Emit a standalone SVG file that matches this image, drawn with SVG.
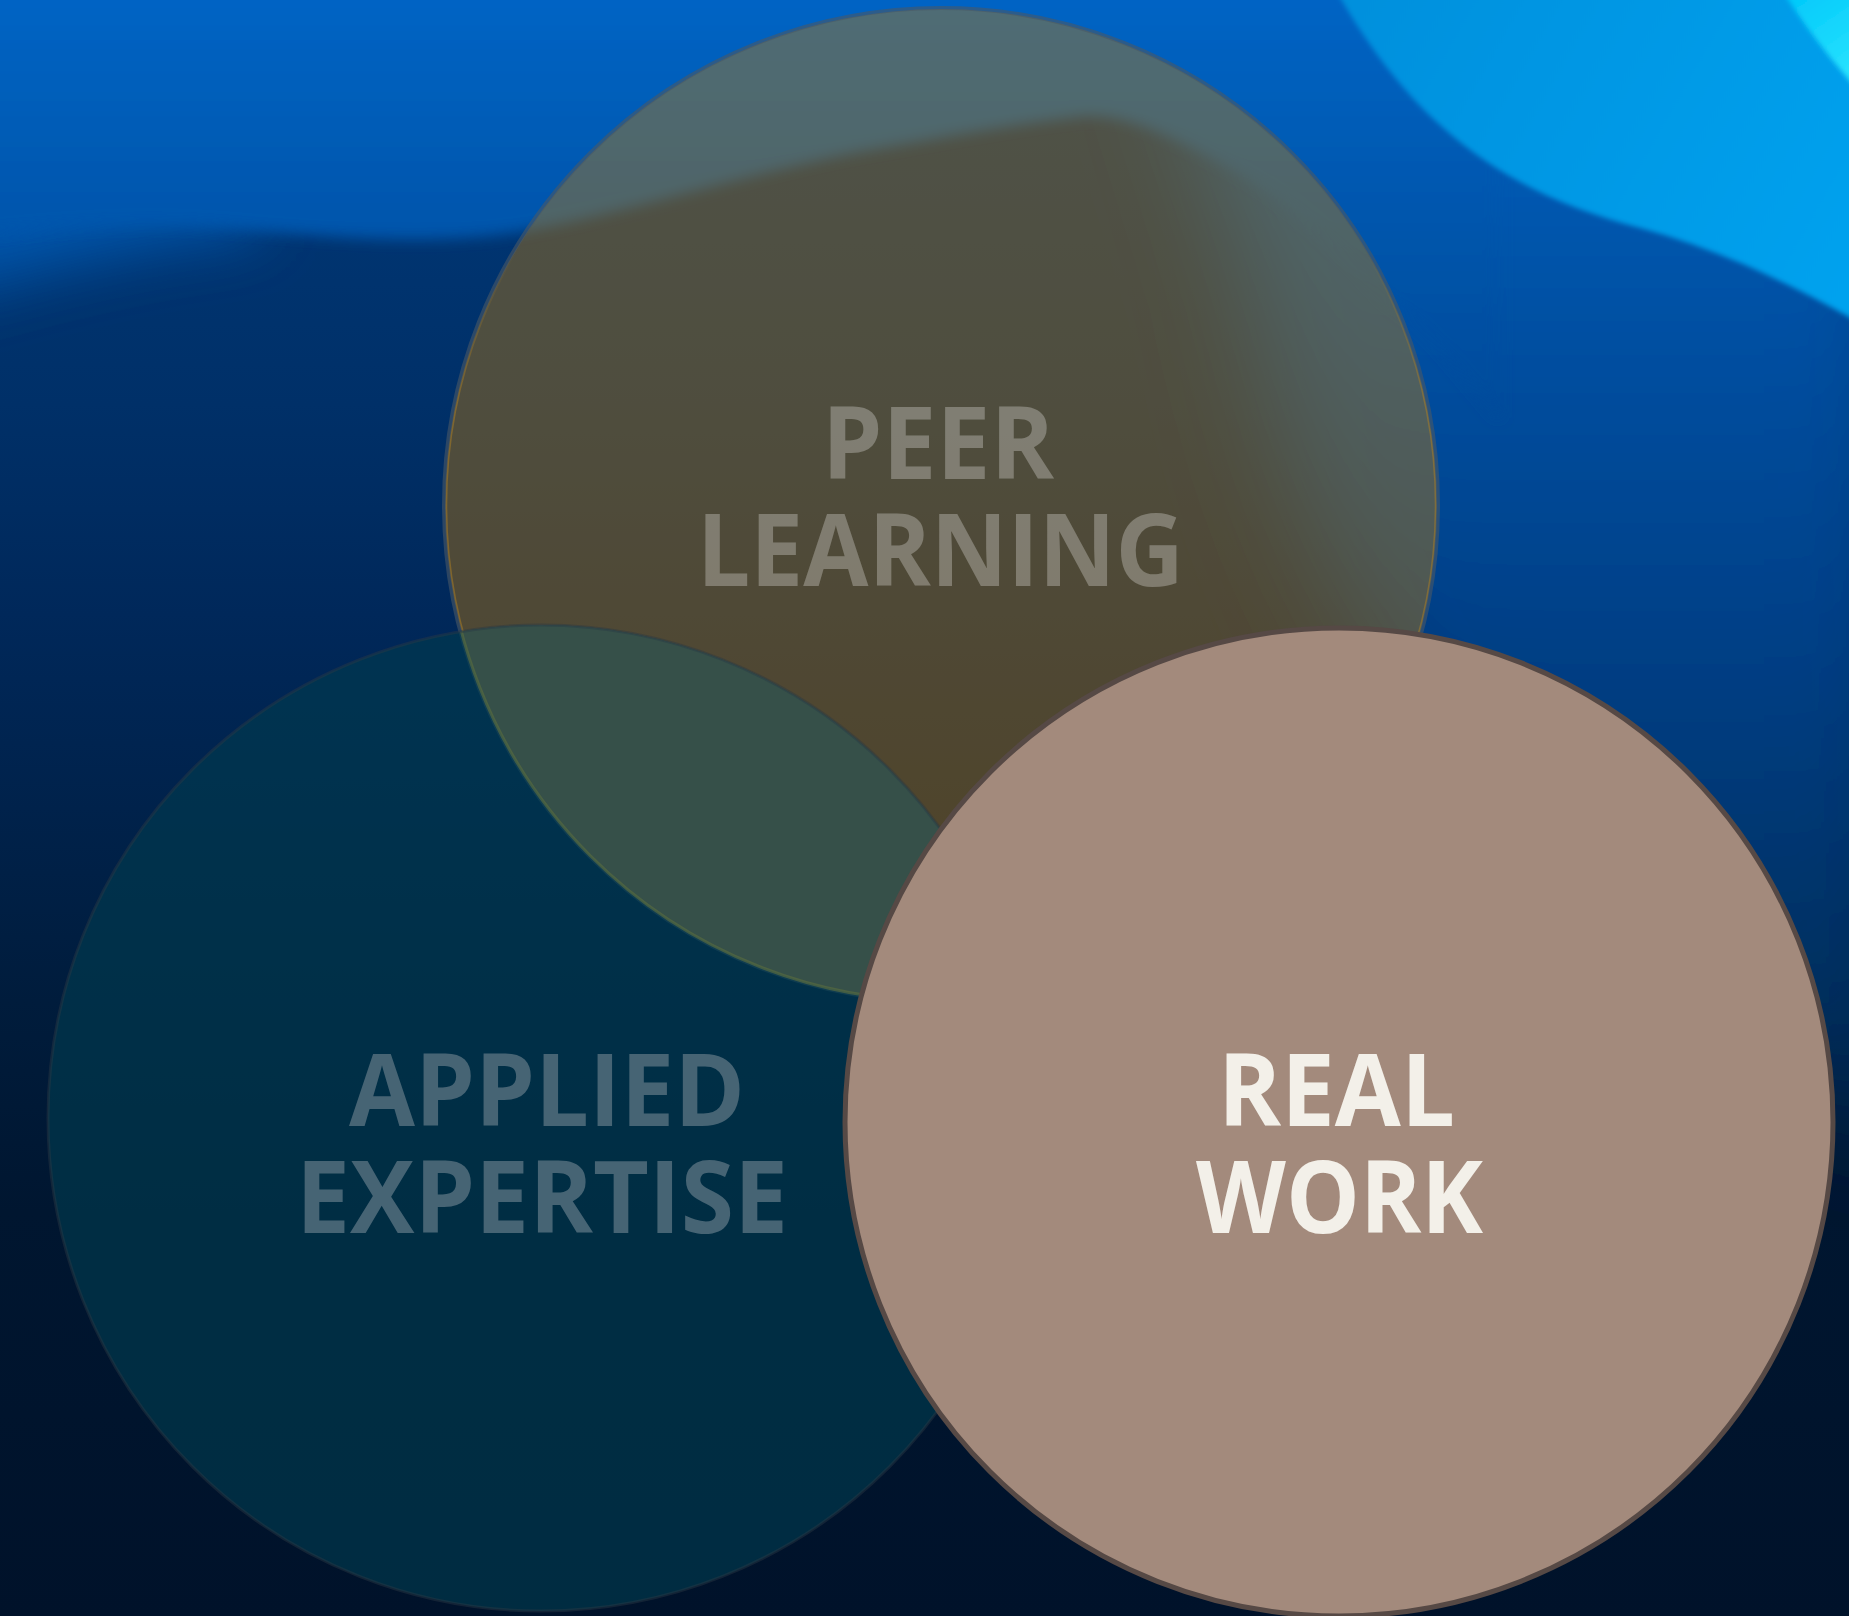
<svg xmlns="http://www.w3.org/2000/svg" width="1849" height="1616" viewBox="0 0 1849 1616">
  <defs>
    <linearGradient id="baseG" gradientUnits="userSpaceOnUse" x1="0" y1="0" x2="0" y2="1616">
      <stop offset="0" stop-color="#003a7c"/>
      <stop offset="0.25" stop-color="#003068"/>
      <stop offset="0.38" stop-color="#00285a"/>
      <stop offset="0.62" stop-color="#001c3c"/>
      <stop offset="0.75" stop-color="#001630"/>
      <stop offset="1" stop-color="#00122a"/>
    </linearGradient>
    <linearGradient id="bandG" gradientUnits="userSpaceOnUse" x1="0" y1="0" x2="0" y2="1616">
      <stop offset="0" stop-color="#0064c4"/>
      <stop offset="0.15" stop-color="#0054aa"/>
      <stop offset="0.4" stop-color="#003f86"/>
      <stop offset="0.62" stop-color="#002f5f"/>
      <stop offset="0.8" stop-color="#001f45"/>
      <stop offset="1" stop-color="#00172f"/>
    </linearGradient>
    <linearGradient id="lightG" gradientUnits="userSpaceOnUse" x1="1320" y1="0" x2="1849" y2="300">
      <stop offset="0" stop-color="#008fdc"/>
      <stop offset="1" stop-color="#00a2ee"/>
    </linearGradient>
    <linearGradient id="cyanG" gradientUnits="userSpaceOnUse" x1="1780" y1="0" x2="1849" y2="100">
      <stop offset="0" stop-color="#00c8fa"/>
      <stop offset="1" stop-color="#30e8ff"/>
    </linearGradient>
    <linearGradient id="innerG" gradientUnits="userSpaceOnUse" x1="0" y1="0" x2="0" y2="1000">
      <stop offset="0" stop-color="#b08020" stop-opacity="0"/>
      <stop offset="0.25" stop-color="#b08020" stop-opacity="0"/>
      <stop offset="0.4" stop-color="#b08020" stop-opacity="0.5"/>
      <stop offset="1" stop-color="#b08020" stop-opacity="0.5"/>
    </linearGradient>
    <filter id="blurS" filterUnits="userSpaceOnUse" x="-200" y="-200" width="2300" height="2000">
      <feGaussianBlur stdDeviation="7"/>
    </filter>
    <filter id="blurM" filterUnits="userSpaceOnUse" x="-200" y="-200" width="2300" height="2000">
      <feGaussianBlur stdDeviation="30"/>
    </filter>
    <filter id="blurXS" filterUnits="userSpaceOnUse" x="-200" y="-200" width="2300" height="2000">
      <feGaussianBlur stdDeviation="2.5"/>
    </filter>
    <filter id="blurL" filterUnits="userSpaceOnUse" x="-200" y="-200" width="2300" height="2000">
      <feGaussianBlur stdDeviation="55"/>
    </filter>
    <clipPath id="clipApplied">
      <circle cx="541" cy="1118" r="493"/>
    </clipPath>
    <style>
      .label { font-family: "Open Sans", "Liberation Sans", sans-serif; font-weight: 700; font-size: 100px; }
      .peerText { fill: #ffffff; fill-opacity: 0.28; }
      .appliedText { fill: #466474; }
      .realText { fill: #f3f0e9; }
    </style>
  </defs>

  <g id="background">
    <rect x="0" y="0" width="1849" height="1616" fill="url(#baseG)"/>
    <path d="M1150,-60 L1909,-60 L1909,1150 C1720,1020 1540,900 1440,780 C1340,640 1275,480 1250,300 Z" fill="url(#bandG)" filter="url(#blurL)"/>
    <path d="M-60,-60 L260,-60 L260,232 C160,240 60,265 -60,300 Z" fill="url(#bandG)" filter="url(#blurM)"/>
    <path d="M-60,-60 L1500,-60 L1500,420 C1450,360 1420,320 1385,300 C1350,260 1290,200 1230,168 C1180,140 1130,114 1085,116 C1000,126 930,140 860,152 C740,175 620,215 520,232 C430,246 330,238 230,228 C140,220 60,226 -60,240 Z" fill="url(#bandG)" filter="url(#blurS)"/>
    <path d="M1320,-40 C1350,20 1390,80 1440,125 C1500,180 1570,210 1640,228 C1720,250 1790,282 1889,340 L1889,-40 Z" fill="url(#lightG)" filter="url(#blurXS)"/>
    <path d="M1776,-20 C1800,20 1825,55 1889,125 L1889,-20 Z" fill="url(#cyanG)" filter="url(#blurXS)"/>
  </g>

  <g id="node-peer-learning">
    <circle cx="941" cy="505" r="496" fill="#c57a00" fill-opacity="0.4"/>
    <circle cx="941" cy="505" r="497" fill="none" stroke="#4a5866" stroke-opacity="0.6" stroke-width="4"/>
    <circle cx="941" cy="505" r="494.5" fill="none" stroke="url(#innerG)" stroke-width="1.5"/>
    <text class="label peerText" x="822" y="479" textLength="232" lengthAdjust="spacingAndGlyphs">PEER</text>
    <text class="label peerText" x="697" y="586" textLength="487" lengthAdjust="spacingAndGlyphs">LEARNING</text>
  </g>

  <g id="node-applied-expertise">
    <circle cx="541" cy="1118" r="493" fill="#003a4f" fill-opacity="0.65"/>
    <g clip-path="url(#clipApplied)">
      <circle cx="941" cy="505" r="496" fill="#365049" stroke="#556a40" stroke-opacity="0.7" stroke-width="3"/>
    </g>
    <circle cx="541" cy="1118" r="493" fill="none" stroke="#2a3a44" stroke-opacity="0.45" stroke-width="3"/>
    <text class="label appliedText" x="349" y="1126" textLength="396" lengthAdjust="spacingAndGlyphs">APPLIED</text>
    <text class="label appliedText" x="296" y="1233" textLength="492" lengthAdjust="spacingAndGlyphs">EXPERTISE</text>
  </g>

  <g id="node-real-work">
    <circle cx="1339" cy="1122" r="494" fill="#a38a7c" stroke="#564945" stroke-width="5"/>
    <text class="label realText" x="1218" y="1126" textLength="237" lengthAdjust="spacingAndGlyphs">REAL</text>
    <text class="label realText" x="1196" y="1233" textLength="287" lengthAdjust="spacingAndGlyphs">WORK</text>
  </g>

  <g id="connectors"/>
</svg>
